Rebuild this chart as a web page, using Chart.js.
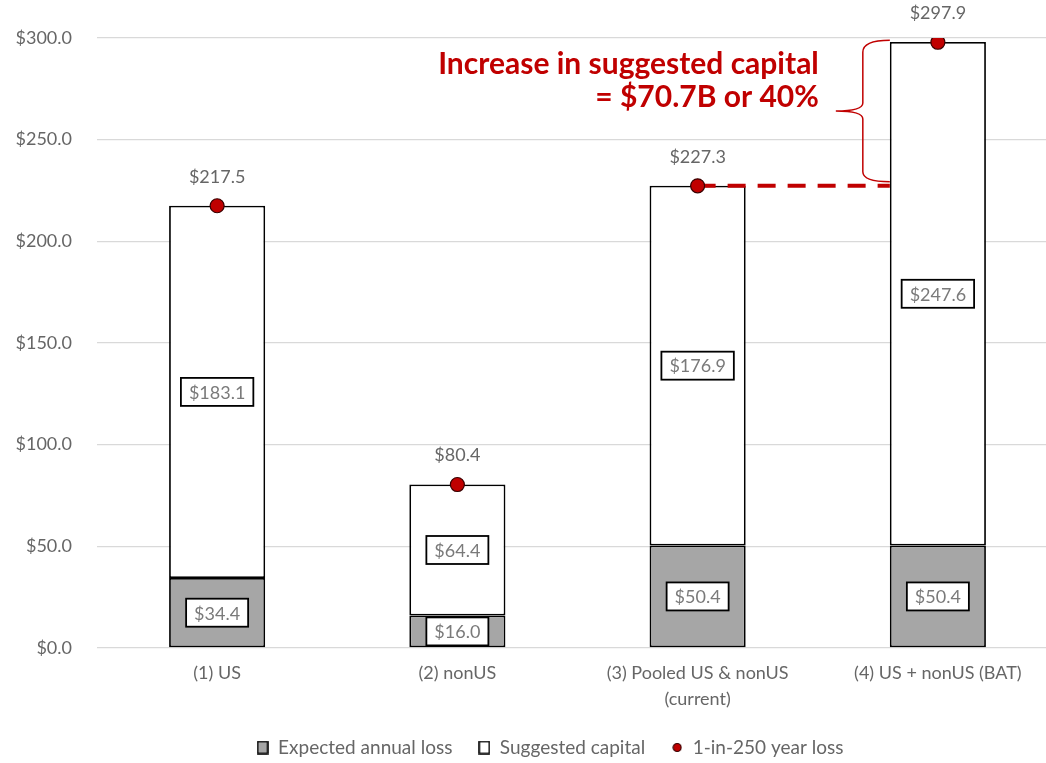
<!DOCTYPE html>
<html>
<head>
<meta charset="utf-8">
<script src="https://cdn.jsdelivr.net/npm/chart.js@4.4.1/dist/chart.umd.min.js"></script>
<style>
  html, body { margin: 0; padding: 0; background: #fff; overflow: hidden; }
  #wrap { position: relative; width: 1100px; height: 763px; }
</style>
</head>
<body>
<div id="wrap"><canvas id="chart"></canvas></div>
<script>
const categories = [["(1) US"], ["(2) nonUS"], ["(3) Pooled US & nonUS", "(current)"], ["(4) US + nonUS (BAT)"]];
const expectedLoss = [34.4, 16.0, 50.4, 50.4];
const suggestedCapital = [183.1, 64.4, 176.9, 247.6];
const tailLoss = [217.5, 80.4, 227.3, 297.9];
const yMax = 300;
const yStep = 50;
const noteLines = ["Increase in suggested capital", "= $70.7B or 40%"];

const FONT = "Lato, 'Open Sans', sans-serif";
const RED = "#c00000";
const GREY_TEXT = "#666666";
const money = v => "$" + Number(v).toFixed(1);

function swatch(kind) {
  const c = document.createElement("canvas");
  const ctx = c.getContext("2d");
  if (kind === "dot") {
    c.width = 10; c.height = 11;
    ctx.beginPath();
    ctx.arc(5, 5.5, 4, 0, Math.PI * 2);
    ctx.fillStyle = RED; ctx.fill();
    ctx.lineWidth = 1.2; ctx.strokeStyle = "#3a0000"; ctx.stroke();
  } else {
    c.width = 12; c.height = 14;
    ctx.fillStyle = kind === "gray" ? "#a6a6a6" : "#fff";
    ctx.fillRect(1, 1, 10, 12);
    ctx.lineWidth = 1.6; ctx.strokeStyle = "#000";
    ctx.strokeRect(1, 1, 10, 12);
  }
  return c;
}
const legendIcons = [swatch("gray"), swatch("white"), swatch("dot")];

// the legend in the original is centred on the whole picture, not on the plot
const legendShift = {
  id: "legendShift",
  afterLayout(chart) {
    if (chart.legend) { chart.legend.left += 21; chart.legend.right += 21; }
  }
};

// boxed value labels inside bar segments, labels above dots, and the red note
const valueLabels = {
  id: "valueLabels",
  afterDatasetDraw(chart, args) {
    if (args.index !== 0) return;
    // dashed line + brace, drawn before the dots so the dots sit on top
    const ctx = chart.ctx;
    const y = chart.scales.y;
    const dots = chart.getDatasetMeta(2).data;
    const bar4 = chart.getDatasetMeta(1).data[3];
    const xr = bar4.x - bar4.width / 2;
    const yLow = y.getPixelForValue(tailLoss[2]);
    const yHigh = y.getPixelForValue(tailLoss[3]);
    ctx.save();
    ctx.strokeStyle = RED;
    ctx.lineWidth = 4;
    ctx.setLineDash([18, 12]);
    ctx.beginPath();
    ctx.moveTo(dots[2].x, yLow);
    ctx.lineTo(xr, yLow);
    ctx.stroke();
    ctx.setLineDash([]);
    ctx.lineWidth = 1.5;
    const xm = xr - 27, xt = xr - 54, ym = (yLow + yHigh) / 2 - 3;
    ctx.beginPath();
    ctx.moveTo(xr, yHigh - 2);
    ctx.quadraticCurveTo(xm, yHigh - 2, xm, yHigh + 10);
    ctx.lineTo(xm, ym - 8);
    ctx.quadraticCurveTo(xm, ym, xt, ym);
    ctx.quadraticCurveTo(xm, ym, xm, ym + 8);
    ctx.lineTo(xm, yLow - 14);
    ctx.quadraticCurveTo(xm, yLow - 4, xr, yLow - 4);
    ctx.stroke();
    ctx.fillStyle = RED;
    ctx.font = "bold 30px " + FONT;
    ctx.textAlign = "right";
    ctx.textBaseline = "middle";
    ctx.fillText(noteLines[0], xt - 17, ym - 47);
    ctx.fillText(noteLines[1], xt - 17, ym - 14);
    ctx.restore();
  },
  afterDatasetsDraw(chart) {
    const ctx = chart.ctx;
    ctx.save();
    ctx.font = "18px " + FONT;
    ctx.textAlign = "center";
    ctx.textBaseline = "middle";
    [0, 1].forEach(di => {
      chart.getDatasetMeta(di).data.forEach((bar, i) => {
        const txt = money(chart.data.datasets[di].data[i]);
        const cx = bar.x, cy = (bar.y + bar.base) / 2;
        const w = ctx.measureText(txt).width + 16, h = 28;
        ctx.fillStyle = "#fff";
        ctx.fillRect(cx - w / 2, cy - h / 2, w, h);
        ctx.lineWidth = 1.8;
        ctx.strokeStyle = "#000";
        ctx.strokeRect(cx - w / 2, cy - h / 2, w, h);
        ctx.fillStyle = "#7a7a7a";
        ctx.fillText(txt, cx, cy + 1);
      });
    });
    ctx.fillStyle = GREY_TEXT;
    chart.getDatasetMeta(2).data.forEach((pt, i) => {
      ctx.fillText(money(tailLoss[i]), pt.x, pt.y - 29);
    });
    ctx.restore();
  }
};

new Chart(document.getElementById("chart"), {
  type: "bar",
  data: {
    labels: categories,
    datasets: [
      {
        label: "Expected annual loss",
        data: expectedLoss,
        backgroundColor: "#a6a6a6",
        borderColor: "#000",
        borderWidth: 1.8,
        borderSkipped: false,
        stack: "s",
        order: 1
      },
      {
        label: "Suggested capital",
        data: suggestedCapital,
        backgroundColor: "#fff",
        borderColor: "#000",
        borderWidth: 1.8,
        borderSkipped: false,
        stack: "s",
        order: 1
      },
      {
        type: "line",
        label: "1-in-250 year loss",
        data: tailLoss,
        showLine: false,
        pointRadius: 7,
        pointBackgroundColor: RED,
        pointBorderColor: "#3a0000",
        pointBorderWidth: 1.2,
        stack: "dots",
        order: 0
      }
    ]
  },
  options: {
    responsive: true,
    maintainAspectRatio: false,
    animation: false,
    layout: { padding: { top: 38, right: 42, left: 0, bottom: -4 } },
    datasets: { bar: { categoryPercentage: 1, barPercentage: 0.4 } },
    scales: {
      x: {
        stacked: true,
        grid: { display: false },
        border: { display: false },
        ticks: {
          color: GREY_TEXT,
          font: { family: FONT, size: 18, lineHeight: 1.45 },
          padding: 4,
          maxRotation: 0,
          autoSkip: false
        },
        afterFit: s => { s.height = 64; }
      },
      y: {
        stacked: true,
        min: 0,
        max: yMax,
        grid: { color: "#d9d9d9", lineWidth: 1.3, drawTicks: false },
        border: { display: false },
        ticks: {
          stepSize: yStep,
          color: GREY_TEXT,
          font: { family: FONT, size: 18 },
          padding: 25,
          callback: v => money(v)
        },
        afterFit: s => { s.width = 97; }
      }
    },
    plugins: {
      tooltip: { enabled: false },
      legend: {
        position: "bottom",
        labels: {
          usePointStyle: true,
          boxWidth: 12,
          boxHeight: 14,
          padding: 26,
          color: GREY_TEXT,
          font: { family: FONT, size: 19 },
          generateLabels(chart) {
            return chart.data.datasets.map((ds, i) => ({
              text: ds.label,
              pointStyle: legendIcons[i],
              datasetIndex: i,
              hidden: false,
              lineWidth: 0,
              fontColor: GREY_TEXT
            }));
          }
        }
      }
    }
  },
  plugins: [legendShift, valueLabels]
});
</script>
</body>
</html>
